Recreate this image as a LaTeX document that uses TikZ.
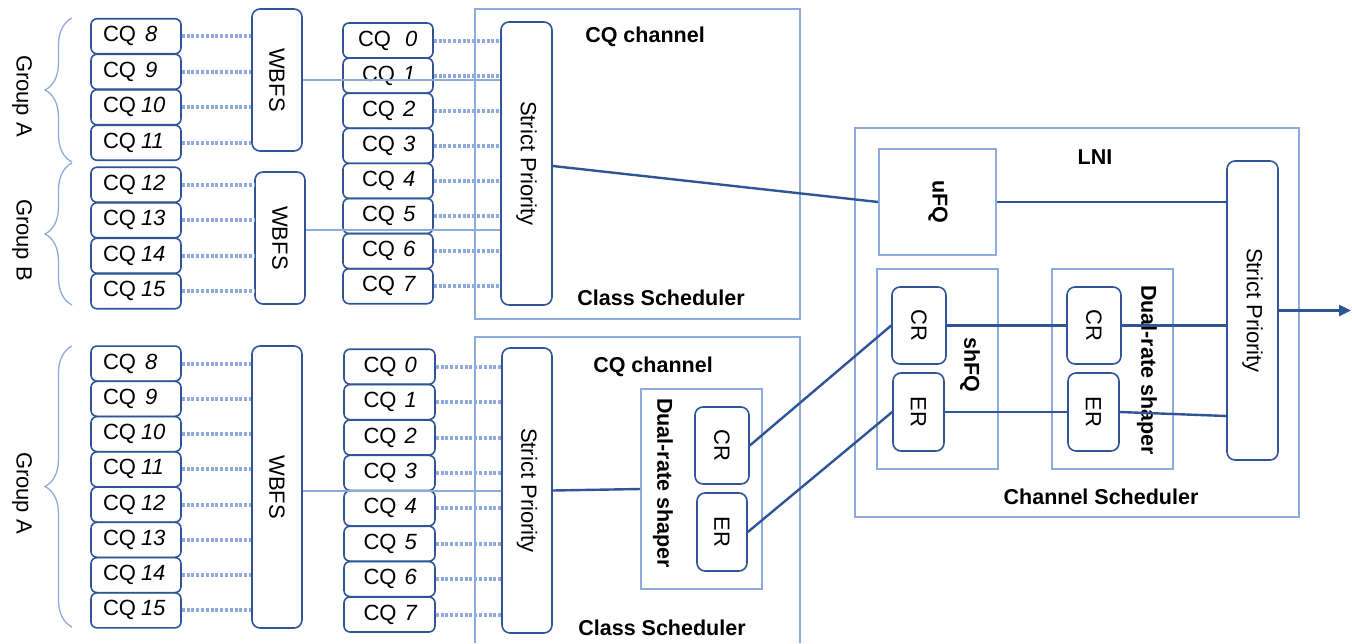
\documentclass[tikz,border=0pt]{standalone}
\usepackage{fontspec}
\setmainfont{Liberation Sans}
\usetikzlibrary{decorations.pathreplacing,arrows.meta,calc}
\definecolor{dblue}{HTML}{2F5597}
\definecolor{lblue}{HTML}{8FAADC}
\newcommand{\cqlab}[3]{\hbox to 88pt{\hspace{#1}CQ\hspace{#2}\textit{#3}\hfil}}
\tikzset{
 txt/.style={font=\fontsize{22}{26}\selectfont},
 btxt/.style={font=\fontsize{21.5}{25}\selectfont\bfseries, inner sep=0pt},
 cqbox/.style={draw=dblue, line width=1.6pt, rounded corners=6pt, inner sep=0pt, minimum width=90pt, minimum height=35pt, txt},
 rbox/.style={draw=dblue, line width=1.6pt, rounded corners=8pt, inner sep=0pt, txt},
 cont/.style={draw=lblue, line width=1.6pt, inner sep=0pt},
 dotline/.style={draw=lblue, line width=4pt, dash pattern=on 3pt off 1.8pt},
 lbline/.style={draw=lblue, line width=2pt},
 dbline/.style={draw=dblue, line width=2.4pt},
 gbrace/.style={draw=lblue, line width=1.3pt, decorate, decoration={brace, amplitude=27pt}},
}
\begin{document}
\begin{tikzpicture}[x=1pt,y=-1pt]
\useasboundingbox (0,0) rectangle (1352,643);

% containers
\node[cont, minimum width=325pt, minimum height=310pt] (chT) at (637.5,164) {};
\draw[cont] (475,643) |- (800,337) -- (800,643);
\node[cont, minimum width=121pt, minimum height=200pt] (drsB) at (701.5,489) {};
\node[cont, minimum width=444pt, minimum height=389pt] (lniBox) at (1077,322.5) {};
\node[cont, minimum width=117pt, minimum height=106pt] (ufq) at (937.5,202) {};
\node[cont, minimum width=121pt, minimum height=200pt] (shfq) at (937.5,369) {};
\node[cont, minimum width=121pt, minimum height=200pt] (drsR) at (1112.5,369) {};

% braces and group labels
\draw[gbrace] (72,162) -- (72,18);
\draw[gbrace] (72,305) -- (72,163);
\draw[gbrace] (72,627) -- (72,346);
\node[txt, inner sep=0pt] (gA) at (22,96) {\rotatebox{-90}{Group A}};
\node[txt, inner sep=0pt] (gB) at (22,240) {\rotatebox{-90}{Group B}};
\node[txt, inner sep=0pt] (gC) at (22,493) {\rotatebox{-90}{Group A}};

% CQ boxes, top
\foreach \n in {8,9} \node[cqbox] (ta\n) at (136,{36.25+35.5*(\n-8)}) {\cqlab{11pt}{9pt}{\n}};
\foreach \n in {10,11} \node[cqbox] (ta\n) at (136,{36.25+35.5*(\n-8)}) {\cqlab{11pt}{5pt}{\n}};
\foreach \n in {12,...,15} \node[cqbox] (ta\n) at (136,{184.75+35.5*(\n-12)}) {\cqlab{11pt}{5pt}{\n}};
\node[cqbox] (tm0) at (388,40.5) {\cqlab{14pt}{14pt}{0}};
\foreach \n in {1,...,7} \node[cqbox] (tm\n) at (388,{40.5+35.1*\n}) {\cqlab{18pt}{8pt}{\n}};
% CQ boxes, bottom
\foreach \n in {8,9} \node[cqbox] (ba\n) at (136,{363.6+35.25*(\n-8)}) {\cqlab{11pt}{9pt}{\n}};
\foreach \n in {10,...,15} \node[cqbox] (ba\n) at (136,{363.6+35.25*(\n-8)}) {\cqlab{11pt}{5pt}{\n}};
\foreach \n in {0,...,7} \node[cqbox, minimum width=91pt] (bm\n) at (389.5,{366.7+35.4*\n}) {\cqlab{18pt}{8pt}{\n}};

% WBFS and strict priority
\node[rbox, minimum width=50pt, minimum height=142pt] (wA) at (277,80) {\rotatebox{-90}{WBFS}};
\node[rbox, minimum width=50pt, minimum height=132pt] (wB) at (280,238) {\rotatebox{-90}{WBFS}};
\node[rbox, minimum width=50pt, minimum height=282pt] (wC) at (277,487) {\rotatebox{-90}{WBFS}};
\node[rbox, minimum width=51pt, minimum height=283pt] (spT) at (526.5,163.5) {\rotatebox{-90}{Strict Priority}};
\node[rbox, minimum width=50pt, minimum height=285pt] (spB) at (527,490.5) {\rotatebox{-90}{Strict Priority}};
\node[rbox, minimum width=51pt, minimum height=299pt] (spR) at (1252.5,310.5) {\rotatebox{-90}{Strict Priority}};

% CR / ER
\node[rbox, minimum width=54pt, minimum height=77pt] (crB) at (722,445.5) {\rotatebox{-90}{CR}};
\node[rbox, minimum width=50pt, minimum height=78pt] (erB) at (722,532) {\rotatebox{-90}{ER}};
\node[rbox, minimum width=54pt, minimum height=77pt] (cr1) at (919,325.5) {\rotatebox{-90}{CR}};
\node[rbox, minimum width=51pt, minimum height=78pt] (er1) at (918.5,412) {\rotatebox{-90}{ER}};
\node[rbox, minimum width=54pt, minimum height=77pt] (cr2) at (1094,325.5) {\rotatebox{-90}{CR}};
\node[rbox, minimum width=51pt, minimum height=78pt] (er2) at (1093.5,412) {\rotatebox{-90}{ER}};

% labels
\node[btxt] (lT1) at (645,37) {CQ channel};
\node[btxt] (lT2) at (661,298) {Class Scheduler};
\node[btxt] (lB1) at (653,367) {CQ channel};
\node[btxt] (lB2) at (662,628) {Class Scheduler};
\node[btxt] (lni) at (1095,157) {LNI};
\node[btxt] (chs) at (1101,497) {Channel Scheduler};
\node[btxt] (lufq) at (938,202) {\rotatebox{-90}{uFQ}};
\node[btxt] (lshfq) at (970,365) {\rotatebox{-90}{shFQ}};
\node[btxt] (ldrsR) at (1147,370) {\rotatebox{-90}{Dual-rate shaper}};
\node[btxt] (ldrsB) at (663,483) {\rotatebox{-90}{Dual-rate shaper}};

% dotted connectors
\foreach \n in {8,...,11} \draw[dotline] (ta\n.east) -- (wA.west |- ta\n.east);
\foreach \n in {12,...,15} \draw[dotline] (ta\n.east) -- (wB.west |- ta\n.east);
\foreach \n in {0,...,7} \draw[dotline] (tm\n.east) -- (spT.west |- tm\n.east);
\foreach \n in {8,...,15} \draw[dotline] (ba\n.east) -- (wC.west |- ba\n.east);
\foreach \n in {0,...,7} \draw[dotline] (bm\n.east) -- (spB.west |- bm\n.east);

% WBFS outputs
\coordinate (wBo) at ($(wB.east)+(0,-8)$);
\coordinate (wCo) at ($(wC.east)+(0,4)$);
\draw[lbline] (wA.east) -- (spT.west |- wA.east);
\draw[lbline] (wBo) -- (spT.west |- wBo);
\draw[lbline] (wCo) -- (spB.west |- wCo);

% dark connectors
\draw[dbline] ($(spT.east)+(0,2.5)$) -- (ufq.west);
\draw[dbline] (spB.east) -- (drsB.west);
\draw[dbline] (crB.east) -- (cr1.west);
\draw[dbline] (erB.east) -- (er1.west);
\draw[dbline] (ufq.east) -- (spR.west |- ufq.east);
\draw[dbline] (cr1.east) -- (cr2.west);
\draw[dbline] (cr2.east) -- (spR.west |- cr2.east);
\draw[dbline] (er1.east) -- (er2.west);
\coordinate (erIn) at ($(spR.west |- er2.east)+(0,4)$);
\draw[dbline] (er2.east) -- (erIn);
\coordinate (out) at (1351,310.5);
\draw[dbline, -{Triangle[length=12pt,width=11pt]}] (spR.east) -- (out);
\end{tikzpicture}
\end{document}
